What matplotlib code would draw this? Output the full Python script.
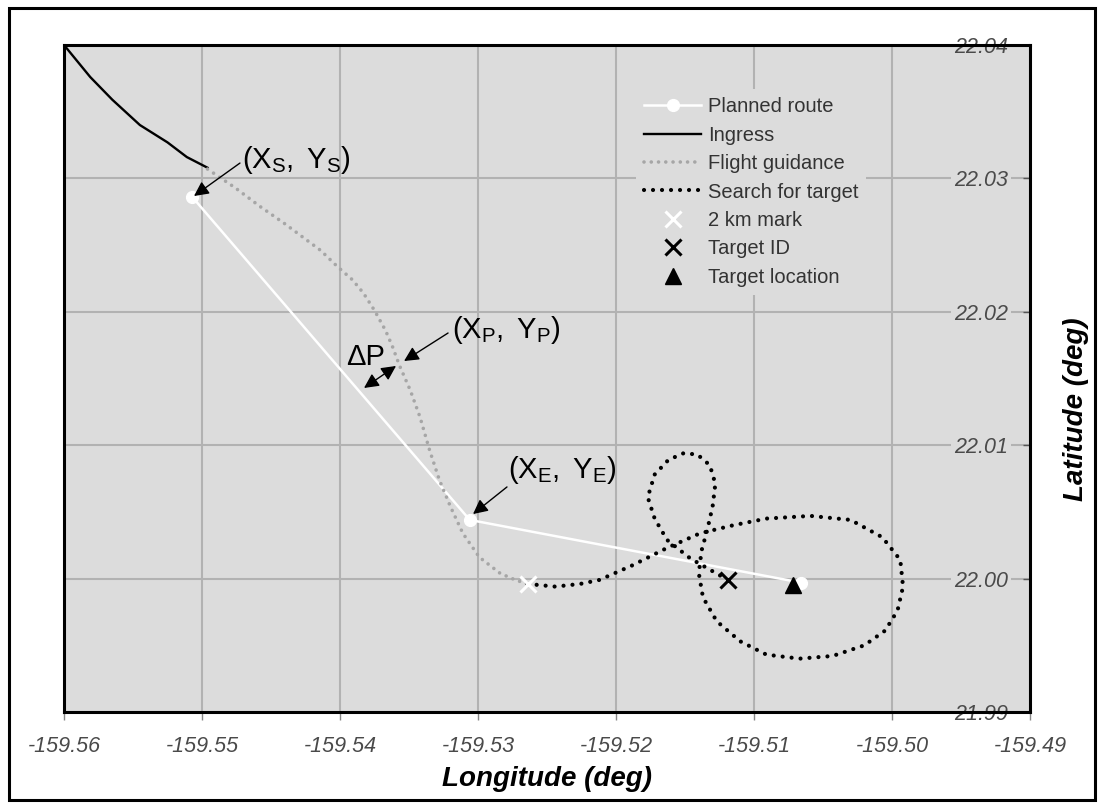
import matplotlib
matplotlib.use("Agg")
import matplotlib.pyplot as plt
from matplotlib.patches import Rectangle
from matplotlib.lines import Line2D

plt.rcParams['font.family'] = ['Liberation Sans', 'DejaVu Sans']
plt.rcParams['mathtext.fontset'] = 'custom'
plt.rcParams['mathtext.rm'] = 'Liberation Sans'
plt.rcParams['mathtext.it'] = 'Liberation Sans:italic'
plt.rcParams['mathtext.bf'] = 'Liberation Sans:bold'

########## data (lon / lat in degrees) ##########
route_lon = [-159.5507, -159.5306, -159.5066]
route_lat = [22.0286, 22.0044, 21.9997]

ingress_lon = [-159.5600, -159.5581, -159.5565, -159.5545, -159.5525, -159.5511, -159.5496]
ingress_lat = [22.0400, 22.0376, 22.0359, 22.0340, 22.0327, 22.0316, 22.0308]

guidance_lon = [-159.5496, -159.5476, -159.5458, -159.5440, -159.5427, -159.5414, -159.5402,
                -159.5391, -159.5383, -159.5375, -159.5367, -159.5362, -159.5357, -159.5349,
                -159.5342, -159.5335, -159.5328, -159.5320, -159.5311, -159.5299, -159.5284,
                -159.5273, -159.5264]
guidance_lat = [22.0307, 22.0293, 22.0279, 22.0266, 22.0256, 22.0246, 22.0234,
                22.0224, 22.0214, 22.0201, 22.0186, 22.0174, 22.0160, 22.0141,
                22.0121, 22.0096, 22.0074, 22.0054, 22.0034, 22.0016, 22.0004,
                21.9999, 21.9996]

search_lon = [-159.5264, -159.5244, -159.5226, -159.5212, -159.5188, -159.5163, -159.5139,
              -159.5115, -159.5091, -159.5059, -159.5030, -159.5007, -159.4994, -159.4992,
              -159.4996, -159.5005, -159.5020, -159.5043, -159.5067, -159.5091, -159.5110,
              -159.5127, -159.5137, -159.5140, -159.5138, -159.5134, -159.5130, -159.5128,
              -159.5132, -159.5141, -159.5151, -159.5162, -159.5172, -159.5177, -159.5172,
              -159.5163, -159.5146, -159.5119]
search_lat = [21.9996, 21.9994, 21.9996, 21.9999, 22.0010, 22.0023, 22.0034,
              22.0040, 22.0045, 22.0047, 22.0044, 22.0031, 22.0014, 21.9994,
              21.9976, 21.9961, 21.9950, 21.9942, 21.9940, 21.9943, 21.9953,
              21.9968, 21.9986, 22.0004, 22.0021, 22.0036, 22.0054, 22.0071,
              22.0085, 22.0093, 22.0094, 22.0089, 22.0078, 22.0061, 22.0045,
              22.0029, 22.0015, 21.9999]

mark2km = (-159.5264, 21.9996)
target_id = (-159.5119, 21.9999)
target_loc = (-159.5072, 21.9995)

xticks = [-159.56, -159.55, -159.54, -159.53, -159.52, -159.51, -159.50, -159.49]
yticks = [21.99, 22.00, 22.01, 22.02, 22.03, 22.04]

legend_labels = ["Planned route", "Ingress", "Flight guidance", "Search for target",
                 "2 km mark", "Target ID", "Target location"]

bg = "#dcdcdc"

########## figure ##########
fig = plt.figure(figsize=(11.03, 8.08), dpi=100)
ax = fig.add_axes([64/1103, 1-712/808, (1030-64)/1103, (712-45)/808])
ax.set_facecolor(bg)

ax.plot(route_lon, route_lat, color="white", lw=1.8, marker="o", ms=8.5, zorder=3)
ax.plot(ingress_lon, ingress_lat, color="black", lw=1.7, zorder=3)
ax.plot(guidance_lon, guidance_lat, color="#a6a6a6", lw=2.6, ls=(0, (0.01, 2.0)),
        dash_capstyle="round", zorder=3)
ax.plot(search_lon, search_lat, color="black", lw=3.0, ls=(0, (0.01, 2.15)),
        dash_capstyle="round", zorder=3)
ax.plot(*mark2km, ls="none", marker="x", color="white", ms=11, mew=2.2, zorder=4)
ax.plot(*target_id, ls="none", marker="x", color="black", ms=12, mew=2.2, zorder=4)
ax.plot(*target_loc, ls="none", marker="^", color="black", ms=12, zorder=4)

# annotations
arr = dict(arrowstyle="-|>", color="black", lw=1.0, mutation_scale=22, shrinkA=0, shrinkB=0)
ax.annotate("", xy=(-159.55058, 22.02868), xytext=(-159.54725, 22.03115), arrowprops=arr, zorder=5)
ax.annotate("", xy=(-159.53536, 22.01631), xytext=(-159.53217, 22.01841), arrowprops=arr, zorder=5)
ax.annotate("", xy=(-159.53036, 22.00484), xytext=(-159.52790, 22.00687), arrowprops=arr, zorder=5)
ax.annotate("", xy=(-159.53826, 22.01429), xytext=(-159.53594, 22.01594),
            arrowprops=dict(arr, arrowstyle="<|-|>"), zorder=5)

tkw = dict(fontsize=21, ha="left", va="center", color="black")
ax.text(-159.54710, 22.03138, r"$\mathrm{(X_S,\ Y_S)}$", **tkw)
ax.text(-159.53188, 22.01864, r"$\mathrm{(X_P,\ Y_P)}$", **tkw)
ax.text(-159.52783, 22.00814, r"$\mathrm{(X_E,\ Y_E)}$", **tkw)
ax.text(-159.53957, 22.01661, "ΔP", **tkw)

# axes
ax.set_xlim(-159.56, -159.49)
ax.set_ylim(21.99, 22.04)
ax.set_xticks(xticks)
ax.set_xticklabels(["%.2f" % v for v in xticks])
ax.yaxis.tick_right()
ax.tick_params(axis="x", direction="out", length=6, width=1, color="#888888",
               labelsize=15.5, labelcolor="#4a4a4a", pad=11)
ax.tick_params(axis="y", direction="in", length=5, width=1, color="#555555",
               labelsize=15.5, labelcolor="#4a4a4a", pad=-16)
ax.set_yticks(yticks)
ax.set_yticklabels(["%.2f" % v for v in yticks])
for lab in ax.get_xticklabels():
    lab.set_style("italic")
ylabs = ax.get_yticklabels()
for i, lab in enumerate(ylabs):
    lab.set_style("italic")
    lab.set_horizontalalignment("right")
    if 0 < i < len(ylabs) - 1:
        lab.set_bbox(dict(facecolor=bg, edgecolor="none", pad=2))

ax.grid(True, color="#b2b2b2", lw=1.5)
ax.set_axisbelow(True)
for s in ax.spines.values():
    s.set_linewidth(2.2)
    s.set_color("black")

ax.set_xlabel("Longitude (deg)", fontsize=20, fontweight="bold", style="italic", labelpad=7)
ax.yaxis.set_label_position("right")
ax.set_ylabel("Latitude (deg)", fontsize=20, fontweight="bold", style="italic", rotation=90)
ax.yaxis.set_label_coords(1.034, 0.454)

# legend
handles = [
    Line2D([], [], color="white", lw=1.8, marker="o", ms=8.5),
    Line2D([], [], color="black", lw=1.7),
    Line2D([], [], color="#a6a6a6", lw=2.6, ls=(0, (0.01, 2.0)), dash_capstyle="round"),
    Line2D([], [], color="black", lw=3.0, ls=(0, (0.01, 2.15)), dash_capstyle="round"),
    Line2D([], [], ls="none", marker="x", color="white", ms=11, mew=2.2),
    Line2D([], [], ls="none", marker="x", color="black", ms=12, mew=2.2),
    Line2D([], [], ls="none", marker="^", color="black", ms=12),
]
leg = ax.legend(handles, legend_labels, loc="upper left", bbox_to_anchor=(0.582, 0.949),
                fontsize=14.5, labelcolor="#333333", handlelength=2.8, handletextpad=0.35,
                labelspacing=0.47, borderpad=0.4, numpoints=1,
                facecolor=bg, edgecolor="none", framealpha=1, fancybox=False)

# outer frame
fig.patches.append(Rectangle((8.5/1103, 8/808), (1095-8.5)/1103, (800-8)/808,
                             transform=fig.transFigure, fill=False, ec="black", lw=2.2))

fig.savefig("out.png", dpi=100)
